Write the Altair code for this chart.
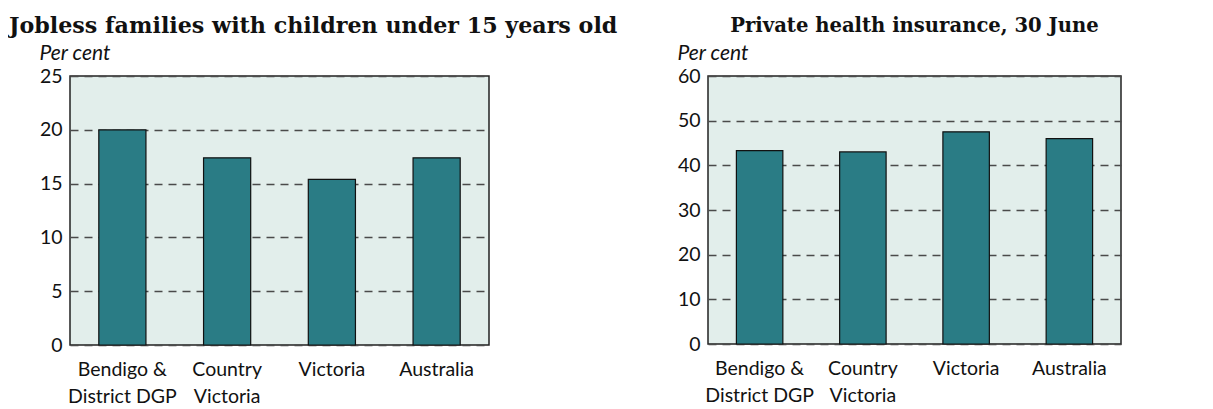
import altair as alt
import pandas as pd

categories = ["Bendigo &|District DGP", "Country|Victoria", "Victoria", "Australia"]
jobless = [20.0, 17.4, 15.4, 17.4]
insurance = [43.3, 43.0, 47.5, 46.0]

df1 = pd.DataFrame({"cat": categories, "value": jobless})
df2 = pd.DataFrame({"cat": categories, "value": insurance})

FONT = "Lato"
TFONT = "DejaVu Serif"
BAR = "#2A7C85"


def panel(df, title, tsize, ymax, step, width, height, anchor, dx):
    return alt.Chart(df, title=alt.TitleParams(
        title, fontSize=tsize, font=TFONT, fontWeight="bold", color="#111111",
        anchor=anchor, dx=dx, offset=5,
        frame="bounds" if anchor == "start" else "group")).mark_bar(
        color=BAR, stroke="#111111", strokeWidth=1.2, width={"band": 0.5}
    ).encode(
        x=alt.X("cat:N", sort=categories, title=None,
                axis=alt.Axis(labelAngle=0, labelExpr="split(datum.label, '|')",
                              labelFont=FONT, labelFontSize=19.5, labelColor="#111111",
                              labelLineHeight=27, labelPadding=15, ticks=False,
                              domain=False, labelBaseline="top")),
        y=alt.Y("value:Q", title="Per cent",
                scale=alt.Scale(domain=[0, ymax], nice=False),
                axis=alt.Axis(values=list(range(0, ymax + 1, step)),
                              labelFont=FONT, labelFontSize=19.5, labelColor="#111111",
                              labelPadding=8, ticks=False, domain=False,
                              grid=True, gridDash=[8, 6], gridColor="#4a4a4a",
                              gridWidth=1.3,
                              titleFont=FONT, titleFontSize=21, titleFontStyle="italic",
                              titleFontWeight="normal", titleColor="#111111",
                              titleAngle=0, titleAlign="left", titleBaseline="alphabetic",
                              titleX=-31, titleY=-17)),
    ).properties(width=width, height=height)


left = panel(df1, "Jobless families with children under 15 years old", 22.2, 25, 5, 419, 269, "start", -30)
right = panel(df2, "Private health insurance, 30 June", 19.6, 60, 10, 413, 268, "middle", 0)

chart = alt.hconcat(left, right, spacing=219, bounds="flush").configure_view(
    fill="#E2EEEB", stroke="#222222", strokeWidth=1.5
).properties(padding={"left": 0, "top": 6, "right": 0, "bottom": 0})

chart.save("out.html", embed_options={"renderer": "svg", "actions": False})
